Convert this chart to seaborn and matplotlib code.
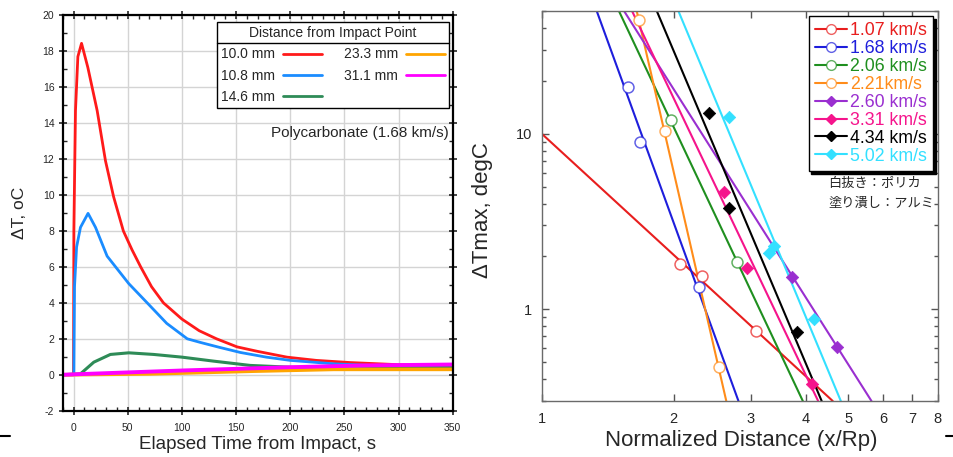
import matplotlib
matplotlib.use('Agg')
import matplotlib.pyplot as plt
from matplotlib.lines import Line2D
from matplotlib.colors import to_rgba
from matplotlib.ticker import MultipleLocator, FixedLocator, FixedFormatter, NullFormatter
import seaborn as sns

sns.set_style('ticks')
plt.rcParams['font.family'] = ['Liberation Sans', 'DejaVu Sans']
plt.rcParams['axes.unicode_minus'] = False

# ---- left panel: temperature rise vs time ----
dist_labels = ['10.0 mm', '10.8 mm', '14.6 mm', '23.3 mm', '31.1 mm']
dist_colors = ['#ff1a1a', '#1a8cff', '#2e8b57', '#ffa500', '#ff00ff']

t_10_0 = [-10, 0, 0.3, 1.8, 4, 7.4, 13.2, 21.8, 29.5, 37, 46, 54, 62, 72, 83, 100, 116, 132, 151, 170, 197, 224, 255, 300, 350]
dt_10_0 = [0, 0, 8.0, 14.7, 17.7, 18.44, 17.1, 14.7, 11.9, 9.9, 8.0, 6.95, 6.0, 4.9, 4.0, 3.1, 2.45, 2.0, 1.55, 1.3, 0.98, 0.80, 0.68, 0.56, 0.52]
t_10_8 = [-10, 0, 0.3, 0.9, 2.8, 6.4, 13.4, 20.3, 31, 51, 68, 86, 105, 117, 135, 154, 178, 200, 240, 301, 350]
dt_10_8 = [0, 0, 0.05, 4.9, 7.1, 8.2, 8.98, 8.2, 6.6, 5.07, 4.0, 2.86, 2.0, 1.8, 1.52, 1.24, 0.98, 0.80, 0.61, 0.45, 0.42]
t_14_6 = [-10, 6.4, 18.7, 34, 51, 74, 100, 129, 163, 200, 255, 350]
dt_14_6 = [0, 0.05, 0.70, 1.13, 1.22, 1.13, 0.98, 0.76, 0.52, 0.42, 0.33, 0.40]
t_23_3 = [-10, 71, 166, 240, 350]
dt_23_3 = [0, 0.05, 0.2, 0.3, 0.3]
t_31_1 = [-10, 31, 101.6, 200, 270, 350]
dt_31_1 = [0, 0.09, 0.24, 0.42, 0.52, 0.57]

# ---- right panel: max temperature rise vs normalized distance ----
speed_labels = ['1.07 km/s', '1.68 km/s', '2.06 km/s', '2.21km/s',
                '2.60 km/s', '3.31 km/s', '4.34 km/s', '5.02 km/s']
speed_colors = ['#e81e1e', '#1e1edc', '#1f8f1f', '#ff8c1a',
                '#9a2fd0', '#f5148c', '#000000', '#33e0ff']
speed_open = [True, True, True, True, False, False, False, False]

pts_x = [[2.068, 2.32, 3.08], [1.573, 1.675, 2.28], [1.972, 2.785], [1.667, 1.914, 2.533],
         [3.72, 4.71], [2.604, 2.944, 4.13], [2.41, 2.67, 3.815], [2.67, 3.30, 3.38, 4.18]]
pts_y = [[1.80, 1.55, 0.752], [18.4, 9.0, 1.34], [11.9, 1.87], [44.4, 10.3, 0.471],
         [1.52, 0.608], [4.64, 1.72, 0.3755], [13.2, 3.76, 0.743], [12.5, 2.08, 2.28, 0.877]]

# fitted power-law lines, end points as seen on the plot
fit_x = [[1.0, 4.61], [1.335, 2.81], [1.50, 3.94], [1.647, 2.636],
         [1.541, 5.65], [1.607, 4.27], [1.83, 4.35], [2.05, 4.81]]
fit_y = [[10, 0.3], [50, 0.3], [50, 0.3], [50, 0.3],
         [50, 0.3], [50, 0.3], [50, 0.3], [50, 0.3]]

W, H = 954, 457
fig = plt.figure(figsize=(W / 100, H / 100), dpi=100)
ax1 = fig.add_axes([62.7 / W, 1 - 410.7 / H, 390 / W, 395.4 / H])
ax2 = fig.add_axes([541.7 / W, 1 - 401 / H, 396 / W, 390 / H])

# ---------- left ----------
series = [(t_10_0, dt_10_0), (t_10_8, dt_10_8), (t_14_6, dt_14_6), (t_23_3, dt_23_3), (t_31_1, dt_31_1)]
widths = [2.0, 2.0, 2.2, 2.6, 2.8]
for (tt, dd), lab, col, lw in zip(series, dist_labels, dist_colors, widths):
    sns.lineplot(x=tt, y=dd, color=col, lw=lw, label=lab, estimator=None, ax=ax1)

ax1.set_xlim(-10, 350)
ax1.set_ylim(-2, 20)
ax1.xaxis.set_major_locator(MultipleLocator(50))
ax1.xaxis.set_minor_locator(MultipleLocator(10))
ax1.yaxis.set_major_locator(MultipleLocator(2))
ax1.yaxis.set_minor_locator(MultipleLocator(1))
ax1.grid(True, which='major', color='#d4d4d4', lw=1)
ax1.set_axisbelow(True)
for s in ax1.spines.values():
    s.set_color('black')
    s.set_linewidth(1.6)
ax1.tick_params(which='major', direction='inout', length=6, width=1.2, labelsize=7.5,
                top=True, right=True, pad=3)
ax1.tick_params(which='minor', direction='in', length=3, width=1, top=True, right=True)
ax1.tick_params(axis='x', which='major', pad=6)
ax1.set_xlabel('Elapsed Time from Impact, s', fontsize=13.5)
ax1.xaxis.set_label_coords(0.5, -0.064)
ax1.set_ylabel('ΔT, oC', fontsize=12.5)
ax1.yaxis.set_label_coords(-0.092, 0.5)
ax1.text(0.9905, 0.702, 'Polycarbonate (1.68 km/s)', transform=ax1.transAxes,
         ha='right', va='center', fontsize=11)

leg1 = ax1.legend(loc='upper left', bbox_to_anchor=(0.3956, 0.5, 0.595, 0.483), mode='expand',
                  ncol=2, title='Distance from Impact Point', fontsize=10, title_fontsize=10,
                  markerfirst=False, frameon=True, fancybox=False, edgecolor='black',
                  framealpha=1, borderaxespad=0, handlelength=2.8, handletextpad=0.55,
                  columnspacing=1.0, labelspacing=0.52, borderpad=0.3)
leg1.get_frame().set_linewidth(1.0)
for h in leg1.get_lines():
    h.set_linewidth(2)

# ---------- right ----------
ax2.set_xscale('log')
ax2.set_yscale('log')
for i, col in enumerate(speed_colors):
    sns.lineplot(x=fit_x[i], y=fit_y[i], color=col, lw=1.5, estimator=None, ax=ax2)
for i, col in enumerate(speed_colors):
    if speed_open[i]:
        sns.scatterplot(x=pts_x[i], y=pts_y[i], color=col, marker='o', s=62,
                        facecolor='white', edgecolor=to_rgba(col, 0.7), linewidth=1.1,
                        zorder=5, ax=ax2)
    else:
        sns.scatterplot(x=pts_x[i], y=pts_y[i], color=col, marker='D', s=40,
                        edgecolor=col, linewidth=0.5, zorder=5, ax=ax2)

ax2.set_xlim(1, 8)
ax2.set_ylim(0.3, 50)
ax2.xaxis.set_major_locator(FixedLocator([1, 2, 3, 4, 5, 6, 7, 8]))
ax2.xaxis.set_major_formatter(FixedFormatter(['1', '2', '3', '4', '5', '6', '7', '8']))
ax2.xaxis.set_minor_locator(FixedLocator([]))
ax2.xaxis.set_minor_formatter(NullFormatter())
ax2.yaxis.set_major_locator(FixedLocator([1, 10]))
ax2.yaxis.set_major_formatter(FixedFormatter(['1', '10']))
ax2.yaxis.set_minor_locator(FixedLocator([0.3, 0.4, 0.5, 0.6, 0.7, 0.8, 0.9,
                                          2, 3, 4, 5, 6, 7, 8, 9, 20, 30, 40, 50]))
ax2.yaxis.set_minor_formatter(NullFormatter())
for s in ax2.spines.values():
    s.set_color('#6a6a6a')
    s.set_linewidth(1.0)
ax2.tick_params(which='major', direction='in', length=5, width=1, color='#555555',
                labelsize=10.5, top=True, right=True)
ax2.tick_params(which='minor', direction='in', length=3, width=1, color='#555555',
                top=True, right=True)
ax2.tick_params(axis='x', which='major', pad=8)
ax2.tick_params(axis='y', which='major', pad=7)
ax2.set_xlabel('Normalized Distance (x/Rp)', fontsize=16)
ax2.xaxis.set_label_coords(0.503, -0.074)
ax2.set_ylabel('ΔTmax, degC', fontsize=16)
ax2.yaxis.set_label_coords(-0.122, 0.49)

handles = []
for i, col in enumerate(speed_colors):
    if speed_open[i]:
        handles.append(Line2D([0], [0], color=col, lw=1.5, marker='o', ms=7,
                              mfc='white', mec=to_rgba(col, 0.7), mew=1.0))
    else:
        handles.append(Line2D([0], [0], color=col, lw=1.5, marker='D', ms=5,
                              mfc=col, mec=col))
leg2 = ax2.legend(handles, speed_labels, loc='upper right', bbox_to_anchor=(0.988, 0.987),
                  fontsize=12.8, frameon=True, fancybox=False, edgecolor='black',
                  framealpha=1, borderaxespad=0, handlelength=1.8, handletextpad=0.17,
                  labelspacing=0.05, borderpad=0.35,
                  shadow={'ox': 2, 'oy': -2, 'color': 'black', 'alpha': 1})
leg2.get_frame().set_linewidth(1.0)
for txt, col in zip(leg2.get_texts(), speed_colors):
    txt.set_color(col)

jp = ['Noto Sans CJK JP', 'DejaVu Sans']
ax2.text(0.723, 0.559, '白抜き：ポリカ', transform=ax2.transAxes, ha='left', va='center',
         fontsize=9.5, family=jp)
ax2.text(0.723, 0.508, '塗り潰し：アルミ', transform=ax2.transAxes, ha='left', va='center',
         fontsize=9.5, family=jp)

# separator line under the left legend title
fig.canvas.draw()
bb = leg1.get_window_extent()
tb = leg1.get_title().get_window_extent()
ysep = (tb.y0 - 3) / H
fig.add_artist(Line2D([bb.x0 / W, bb.x1 / W], [ysep, ysep], transform=fig.transFigure,
                      color='black', lw=1.0))

# small stray marks at the bottom edges of the original image
fig.add_artist(Line2D([0, 10 / W], [1 - 435.5 / H] * 2, transform=fig.transFigure, color='black', lw=1.5))
fig.add_artist(Line2D([946 / W, 1], [1 - 435.5 / H] * 2, transform=fig.transFigure, color='black', lw=1.5))

fig.savefig('out.png', dpi=100)
